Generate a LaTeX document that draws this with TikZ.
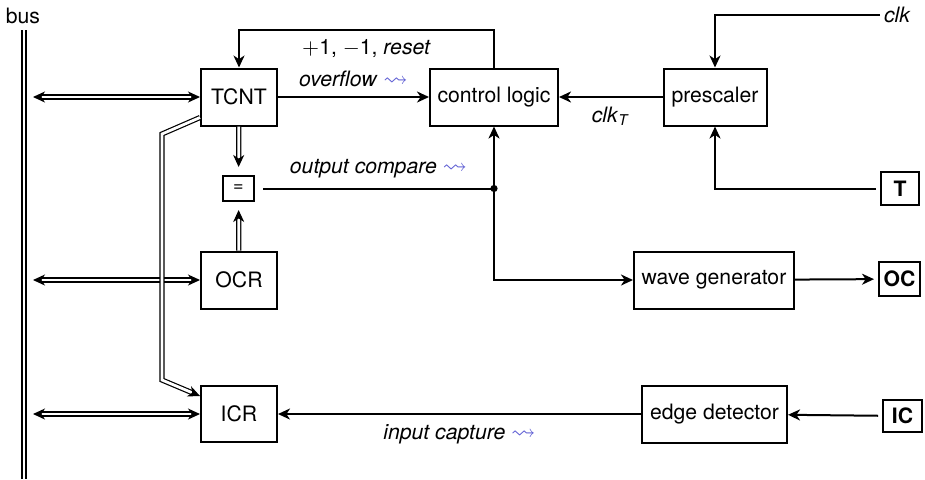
\documentclass[tikz,border=0pt]{standalone}
\usepackage{fontspec}
\setmainfont{TeX Gyre Heros}
\usepackage{amssymb}
\usetikzlibrary{arrows.meta}
\definecolor{squig}{RGB}{90,90,210}
\newcommand{\sqarr}{\ \textcolor{squig}{\scalebox{1.15}{$\leadsto$}}}
\begin{document}
\fontsize{10.6}{12.7}\selectfont
\begin{tikzpicture}[x=0.5pt,y=-0.5pt, line width=1pt,
  >={Stealth[length=6pt,width=5.5pt,inset=1.8pt]},
  box/.style={draw, line width=1pt, inner sep=0pt, minimum width=#1, minimum height=28.5pt},
  term/.style={draw, line width=1pt, inner sep=0pt, outer sep=2.5pt, font=\bfseries},
  dbl/.style={double, line width=0.6pt, double distance=1.4pt,
     arrows={[length=7.5pt,width=7pt,inset=2.2pt]}},
  lbl/.style={inner sep=4.5pt}]
\useasboundingbox (0,0) rectangle (925,479);
\node (buslbl) at (23,16) {bus};
\node[box=38pt] (tcnt) at (239,97) {TCNT};
\node[box=64pt] (ctrl) at (494,97) {control logic};
\node[box=51.5pt] (pre) at (715,97) {prescaler};
\node[draw, line width=1pt, minimum width=15.5pt, minimum height=12.5pt, inner sep=0pt, outer sep=4.5pt, font=\small] (eq) at (238.5,188.5) {=};
\node[box=38pt] (ocr) at (239,280) {OCR};
\node[box=38pt, minimum height=28pt] (icr) at (239,414) {ICR};
\node[box=80pt] (wave) at (714,280) {wave generator};
\node[box=72.5pt] (edge) at (714.5,414) {edge detector};
\node[term, minimum width=19pt, minimum height=16.5pt] (T) at (900,188.5) {T};
\node[term, minimum width=20.5pt, minimum height=17pt] (OC) at (899.5,279) {OC};
\node[term, minimum width=19.5pt, minimum height=16pt] (IC) at (902.5,416) {IC};
\node[anchor=west, inner sep=1.5pt, font=\itshape] (clk) at (880,15) {clk};
% bus
\coordinate (bt) at (24,30);
\coordinate (bb) at (24,479);
\draw[double, line width=0.6pt, double distance=1.4pt] (bt) -- (bb);
\coordinate (b1) at (33,97);
\coordinate (b2) at (33,280);
\coordinate (b3) at (33,414);
\draw[dbl,<->] (b1) -- (tcnt.west);
\draw[dbl,<->] (b2) -- (ocr.west);
\draw[dbl,<->] (b3) -- (icr.west);
% compare
\draw[dbl,->] (tcnt) -- (eq);
\draw[dbl,->] (ocr) -- (eq);
\coordinate (k1) at (162,134);
\coordinate (k2) at (162,380);
\draw[dbl,->] ([yshift=4.5pt]tcnt.south west) -- (k1) -- (k2) -- ([yshift=-5.5pt]icr.north west);
% control
\draw[->] (tcnt) -- (ctrl) node[midway, above, lbl] {\textit{overflow}\sqarr};
\draw[->] (ctrl.north) -- ++(0,-38) -| (tcnt.north) node[pos=0.25, below, lbl] {$+$1, $-$1, \textit{reset}};
\draw[->] (pre) -- (ctrl) node[midway, below, lbl] {\textit{clk}\textsubscript{\textit{T}}};
\draw[->] (clk) -| (pre.north);
\draw[->] (T) -| (pre.south);
\coordinate (dot) at (ctrl.south |- eq.center);
\fill (dot) circle (1.8pt);
\draw (eq) -- (dot) node[midway, above, lbl] {\textit{output compare}\sqarr};
\draw[->] (dot) -- (ctrl.south);
\draw[->] (dot) |- (wave.west);
\draw[->] (wave) -- (OC);
\draw[->] (IC) -- (edge);
\draw[->] (edge) -- (icr) node[midway, below, lbl] {\textit{input capture}\sqarr};
\end{tikzpicture}
\end{document}
